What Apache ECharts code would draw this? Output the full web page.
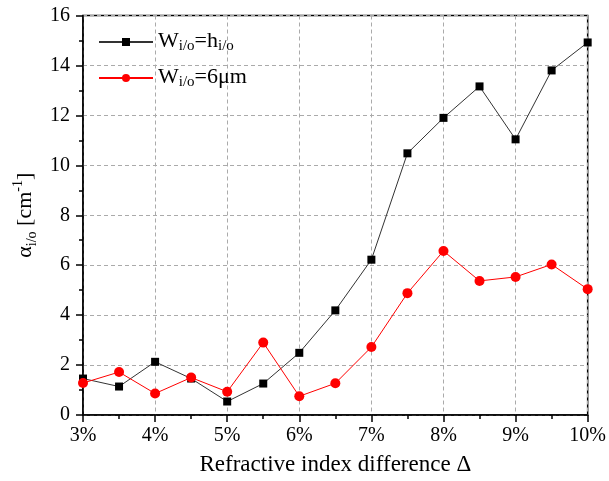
<!DOCTYPE html>
<html>
<head>
<meta charset="utf-8">
<script src="https://cdn.jsdelivr.net/npm/echarts@6/dist/echarts.min.js"></script>
<style>html,body{margin:0;padding:0;background:#fff;}#c{width:609px;height:481px;}</style>
</head>
<body>
<div id="c"></div>
<script>
var xValues = [3, 3.5, 4, 4.5, 5, 5.5, 6, 6.5, 7, 7.5, 8, 8.5, 9, 9.5, 10];
var seriesHio = [1.46, 1.14, 2.13, 1.46, 0.54, 1.26, 2.49, 4.19, 6.22, 10.48, 11.90, 13.16, 11.04, 13.80, 14.92];
var series6um = [1.28, 1.72, 0.86, 1.50, 0.93, 2.90, 0.75, 1.27, 2.72, 4.88, 6.57, 5.37, 5.53, 6.03, 5.04];
var seriesNames = ['hio', '6um'];

var FONT = '"Liberation Serif", "Times New Roman", serif';
function pairs(ys) { return xValues.map(function (x, i) { return [x, ys[i]]; }); }

var chart = echarts.init(document.getElementById('c'), null, { renderer: 'canvas' });
var axisLineStyle = { color: '#000', width: 1.5 };
var gridLine = { show: true, lineStyle: { color: '#aaa', type: [4, 3], width: 1 } };

chart.setOption({
  backgroundColor: '#fff',
  animation: false,
  grid: { left: 83, right: 16, top: 15.5, bottom: 62, show: true, borderColor: '#000', borderWidth: 1.5 },
  legend: {
    orient: 'vertical',
    left: 98,
    top: 27,
    padding: 0,
    itemWidth: 54,
    itemHeight: 10,
    itemGap: 5,
    data: seriesNames,
    formatter: function (n) {
      return n === 'hio' ? '{m|W}{s|i/o}{m|=h}{s|i/o}' : '{m|W}{s|i/o}{m|=6μm}';
    },
    textStyle: {
      fontFamily: FONT,
      color: '#000',
      rich: {
        m: { fontFamily: FONT, fontSize: 22, color: '#000', lineHeight: 24, verticalAlign: 'top', padding: [0, 0, 6, 0] },
        s: { fontFamily: FONT, fontSize: 15, color: '#000', lineHeight: 24, verticalAlign: 'bottom', padding: [12, 0, 0, 0] }
      }
    }
  },
  xAxis: {
    type: 'value', min: 3, max: 10, interval: 1,
    name: 'Refractive index difference Δ',
    nameLocation: 'middle', nameGap: 38,
    nameTextStyle: { fontFamily: FONT, fontSize: 23, color: '#000' },
    axisLine: { lineStyle: axisLineStyle },
    axisTick: { show: true, inside: false, length: 7, lineStyle: { color: '#000', width: 1.5 } },
    minorTick: { show: true, splitNumber: 2, length: 4, lineStyle: { color: '#000', width: 1.5 } },
    axisLabel: { fontFamily: FONT, fontSize: 20, color: '#000', margin: 11, formatter: function (v) { return v + '%'; } },
    splitLine: gridLine
  },
  yAxis: {
    type: 'value', min: 0, max: 16, interval: 2,
    name: '{m|α}{s|i/o}{m| [cm}{p|-1}{m|]}',
    nameLocation: 'middle', nameGap: 44, nameRotate: 90,
    nameTextStyle: {
      fontFamily: FONT, color: '#000',
      rich: {
        m: { fontFamily: FONT, fontSize: 22, color: '#000', lineHeight: 28, verticalAlign: 'middle', padding: [0, 0, 0, 0] },
        s: { fontFamily: FONT, fontSize: 14, color: '#000', lineHeight: 28, verticalAlign: 'bottom', padding: [12, 0, 0, 0] },
        p: { fontFamily: FONT, fontSize: 14, color: '#000', lineHeight: 28, verticalAlign: 'top', padding: [0, 0, 10, 0] }
      }
    },
    axisLine: { lineStyle: axisLineStyle },
    axisTick: { show: true, inside: false, length: 7, lineStyle: { color: '#000', width: 1.5 } },
    minorTick: { show: true, splitNumber: 2, length: 4, lineStyle: { color: '#000', width: 1.5 } },
    axisLabel: { fontFamily: FONT, fontSize: 20, color: '#000', margin: 13 },
    splitLine: gridLine
  },
  series: [
    {
      name: 'hio', type: 'line', data: pairs(seriesHio),
      symbol: 'rect', symbolSize: 8,
      itemStyle: { color: '#000' },
      lineStyle: { color: '#333', width: 1 },
      clip: false, z: 3
    },
    {
      name: '6um', type: 'line', data: pairs(series6um),
      symbol: 'circle', symbolSize: 10,
      itemStyle: { color: '#ff0000' },
      lineStyle: { color: '#ff0000', width: 1 },
      clip: false, z: 4
    }
  ]
});
</script>
</body>
</html>
